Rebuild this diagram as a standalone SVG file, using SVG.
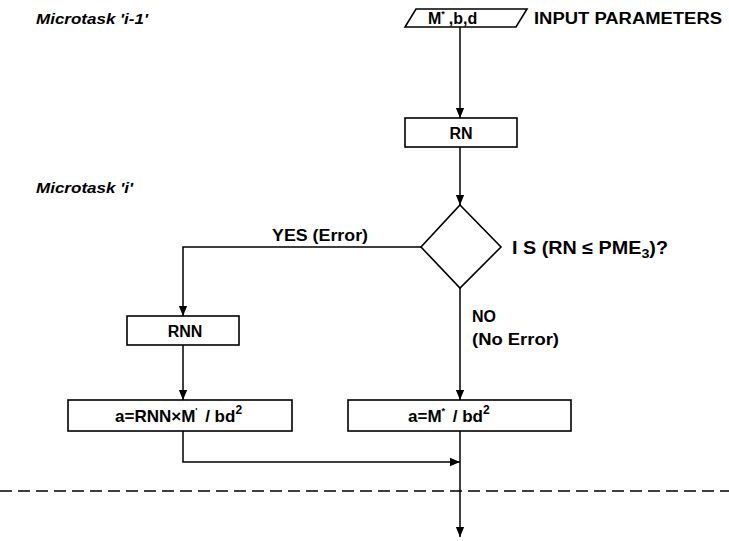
<svg xmlns="http://www.w3.org/2000/svg" width="729" height="541" viewBox="0 0 729 541">
<defs>
<marker id="arr" markerWidth="10" markerHeight="14" refX="12" refY="5" orient="auto" markerUnits="userSpaceOnUse" viewBox="0 0 12 10">
<path d="M0,0 L12,5 L0,10 z" fill="#000"/>
</marker>
<style>
.box{fill:#fff;stroke:#000;stroke-width:1.6}
.t{font-family:"Liberation Sans",Arial,sans-serif;font-weight:bold;fill:#000}
.c{stroke:#000;stroke-width:1.5;fill:none}
.mt{font-family:"Liberation Sans",Arial,sans-serif;font-weight:bold;font-style:italic;font-size:15px;fill:#000}
</style>
</defs>
<rect width="729" height="541" fill="#fff"/>
<text class="mt" x="36" y="24" textLength="112" lengthAdjust="spacingAndGlyphs">Microtask 'i-1'</text>
<text class="mt" x="36" y="193" textLength="97" lengthAdjust="spacingAndGlyphs">Microtask 'i'</text>
<g id="connectors">
<path class="c" d="M460,27 L460,118" marker-end="url(#arr)"/>
<path class="c" d="M460,147 L460,205" marker-end="url(#arr)"/>
<path class="c" d="M421,247 L183,247 L183,316" marker-end="url(#arr)"/>
<path class="c" d="M183,345 L183,400" marker-end="url(#arr)"/>
<path class="c" d="M460,288 L460,400" marker-end="url(#arr)"/>
<path class="c" d="M183,431 L183,462 L460,462" marker-end="url(#arr)"/>
<path class="c" d="M460,431 L460,537" marker-end="url(#arr)"/>
<line x1="0" y1="491" x2="729" y2="491" stroke="#000" stroke-width="1.5" stroke-dasharray="12,6"/>
<text class="t" x="272" y="241" font-size="16" textLength="96" lengthAdjust="spacingAndGlyphs">YES (Error)</text>
<text class="t" x="472" y="322" font-size="16">NO</text>
<text class="t" x="472" y="345" font-size="16" textLength="87" lengthAdjust="spacingAndGlyphs">(No Error)</text>
</g>
<g id="input">
<polygon class="box" points="416,9 527,9 516,27 405,27"/>
<text class="t" x="428" y="24" font-size="16">M<tspan font-size="9" dy="-7">*</tspan><tspan dy="7" dx="4">,b,d</tspan></text>
<text class="t" x="534" y="24" font-size="16" textLength="188" lengthAdjust="spacingAndGlyphs">INPUT PARAMETERS</text>
</g>
<g id="rn">
<rect class="box" x="405" y="118" width="112" height="29"/>
<text class="t" x="461" y="139" font-size="16" text-anchor="middle">RN</text>
</g>
<g id="decision">
<polygon class="box" points="460,205 501,247 460,288 421,247"/>
<text class="t" x="512" y="254" font-size="18" textLength="156" lengthAdjust="spacingAndGlyphs">I S (RN ≤ PME<tspan font-size="13" dy="4">3</tspan><tspan dy="-4">)?</tspan></text>
</g>
<g id="rnn">
<rect class="box" x="127" y="316" width="112" height="29"/>
<text class="t" x="185" y="337" font-size="16" text-anchor="middle">RNN</text>
</g>
<g id="formula-error">
<rect class="box" x="68" y="400" width="224" height="31"/>
<text class="t" x="115" y="422" font-size="17">a=RNN×M<tspan font-size="9" dy="-8">'</tspan><tspan dy="8" dx="3"> / bd</tspan><tspan font-size="12" dy="-8">2</tspan></text>
</g>
<g id="formula-noerror">
<rect class="box" x="348" y="400" width="223" height="31"/>
<text class="t" x="408" y="422" font-size="17">a=M<tspan font-size="9" dy="-8">*</tspan><tspan dy="8" dx="3"> / bd</tspan><tspan font-size="12" dy="-8">2</tspan></text>
</g>
</svg>
